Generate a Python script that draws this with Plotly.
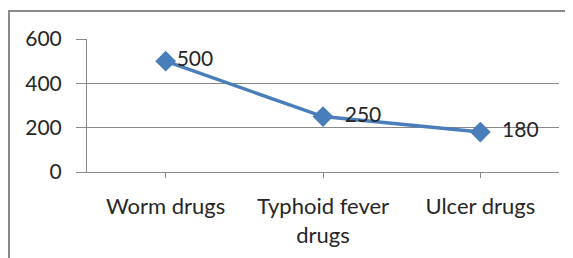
import plotly.graph_objects as go

categories = ["Worm drugs", "Typhoid fever<br>drugs", "Ulcer drugs"]
values = [500, 250, 180]
value_labels = ["500", "250", "180"]
label_pad = ["", "  ", "  "]
y_ticks = [0, 200, 400, 600]

# page has an 8px body margin, so figure is offset by 8px
W, H = 565, 250
L, R, T, B = 79, 14, 31, 86
pw = W - L - R
ph = H - T - B

def px2paper_x(px):
    return (px - 8 - L) / pw

def px2paper_y(py):
    return (H - B - (py - 8)) / ph

FONT = "Lato, Open Sans, sans-serif"

fig = go.Figure()
fig.add_trace(go.Scatter(
    x=[0, 1, 2], y=values,
    mode="lines+markers+text",
    line=dict(color="#4A7EBB", width=3.5),
    marker=dict(symbol="diamond", size=16, color="#4A7EBB"),
    text=[p + v for p, v in zip(label_pad, value_labels)],
    textposition="middle right",
    textfont=dict(family=FONT, size=21, color="#262626"),
    cliponaxis=False,
    showlegend=False,
))

fig.update_layout(
    width=W, height=H,
    margin=dict(l=L, r=R, t=T, b=B, pad=0),
    paper_bgcolor="white", plot_bgcolor="white",
    font=dict(family=FONT, size=21, color="#262626"),
    xaxis=dict(
        range=[-0.5, 2.5],
        tickmode="array", tickvals=[0, 1, 2], ticktext=categories,
        ticks="outside", ticklen=5, tickcolor="#888888",
        tickson="boundaries",
        showgrid=False, zeroline=False,
        showline=True, linecolor="#888888", linewidth=1,
        tickfont=dict(family=FONT, size=22, color="#262626"),
        ticklabelstandoff=10,
        automargin=False,
    ),
    yaxis=dict(
        range=[0, 600], tickvals=y_ticks,
        ticks="outside", ticklen=10, tickcolor="#888888",
        showgrid=True, gridcolor="#888888", gridwidth=1,
        zeroline=False,
        showline=True, linecolor="#888888", linewidth=1,
        tickfont=dict(family=FONT, size=21, color="#262626"),
        ticklabelstandoff=10,
        automargin=False,
    ),
    shapes=[
        dict(type="line", xref="paper", yref="paper",
             x0=px2paper_x(8), x1=px2paper_x(600), y0=px2paper_y(11), y1=px2paper_y(11),
             line=dict(color="#8a8a8a", width=2)),
        dict(type="line", xref="paper", yref="paper",
             x0=px2paper_x(9), x1=px2paper_x(9), y0=px2paper_y(11), y1=px2paper_y(300),
             line=dict(color="#8a8a8a", width=2)),
    ],
)

fig.write_html("out.html")
